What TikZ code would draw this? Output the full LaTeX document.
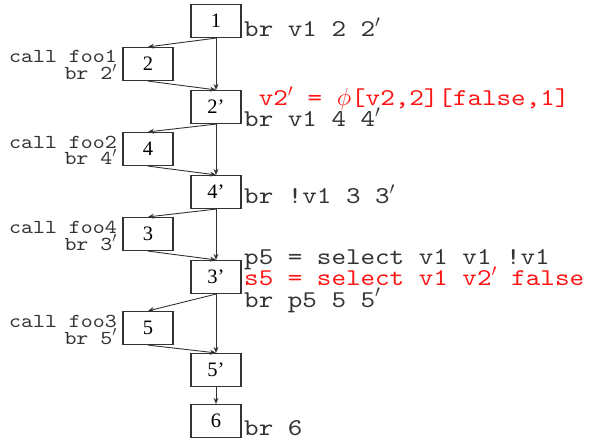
\documentclass[tikz,border=0pt]{standalone}
\usepackage{fontspec}
\setmainfont{Liberation Serif}
\newfontfamily\codefont{lmmono10-regular.otf}[FakeStretch=1.15]
\usetikzlibrary{arrows.meta}
\definecolor{ink}{gray}{0.2}
\definecolor{hot}{RGB}{255,20,20}
\newcommand{\pr}{$'$}
% fixed baseline distance even when lines are taller than it
\newcommand{\tightlines}{\lineskiplimit=-100pt\relax\lineskip=0pt\relax}
\begin{document}
\begin{tikzpicture}[x=1pt,y=-1pt,
  blk/.style={draw=ink,line width=1.2pt,fill=white,inner sep=0pt,
    minimum width=50pt,minimum height=33pt,
    font=\fontsize{20.5}{24}\selectfont},
  % multi-line labels: base anchor = last line
  rlab/.style={anchor=base west,inner sep=0pt,text=ink,align=left,
    font={\codefont\fontsize{24.1}{21.5}\selectfont\tightlines}},
  llab/.style={anchor=base east,inner sep=0pt,text=ink,align=right,
    font={\codefont\fontsize{19.8}{17}\selectfont\tightlines}},
  flow/.style={draw=ink,line width=0.9pt,-{Stealth[length=6pt,width=5pt]}}]
\useasboundingbox (0,0) rectangle (592,441);

% basic blocks
\node[blk] (b1)  at (216,21)  {1};
\node[blk] (b2)  at (148,64)  {2};
\node[blk] (b2p) at (216,107) {2’};
\node[blk] (b4)  at (148,149) {4};
\node[blk] (b4p) at (216,192) {4’};
\node[blk] (b3)  at (148,234) {3};
\node[blk] (b3p) at (216,277) {3’};
\node[blk] (b5)  at (148,328) {5};
\node[blk] (b5p) at (216,370) {5’};
\node[blk] (b6)  at (216,421) {6};

% control flow
\draw[flow] (b1.south)  -- (b2.north);
\draw[flow] (b1.south)  -- (b2p.north);
\draw[flow] (b2.south)  -- (b2p.north);
\draw[flow] (b2p.south) -- (b4.north);
\draw[flow] (b2p.south) -- (b4p.north);
\draw[flow] (b4.south)  -- (b4p.north);
\draw[flow] (b4p.south) -- (b3.north);
\draw[flow] (b4p.south) -- (b3p.north);
\draw[flow] (b3.south)  -- (b3p.north);
\draw[flow] (b3p.south) -- (b5.north);
\draw[flow] (b3p.south) -- (b5p.north);
\draw[flow] (b5.south)  -- (b5p.north);
\draw[flow] (b5p.south) -- (b6.north);

% instructions of the main blocks
\node[rlab] (t1) at (244,37)  {br v1 2 2\pr};
\node[rlab] (t2) at (244,127) {~\textcolor{hot}{v2\pr{} = $\phi$[v2,2][false,1]}\\br v1 4 4\pr};
\node[rlab] (t4) at (244,204) {br !v1 3 3\pr};
\node[rlab] (t3) at (244,307) {p5 = select v1 v1 !v1\\
  \textcolor{hot}{s5 = select v1 v2\pr{} false}\\br p5 5 5\pr};
\node[rlab] (t6) at (244,435) {br 6};

% instructions of the side blocks
\node[llab] (c2) at (117,80)  {call foo1\\br 2\pr};
\node[llab] (c4) at (117,165) {call foo2\\br 4\pr};
\node[llab] (c3) at (117,250) {call foo4\\br 3\pr};
\node[llab] (c5) at (117,344) {call foo3\\br 5\pr};
\end{tikzpicture}
\end{document}
